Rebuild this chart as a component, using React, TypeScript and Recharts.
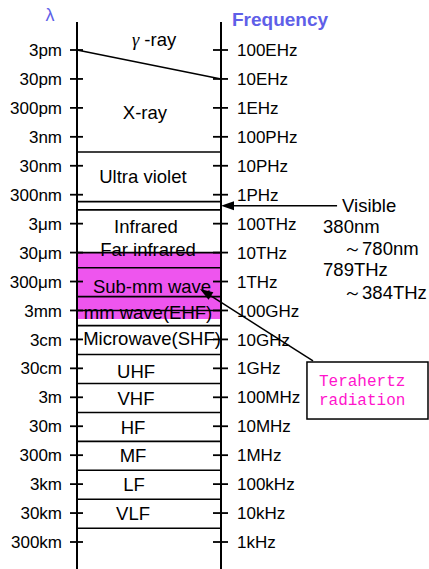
import React from 'react';
import { ComposedChart, XAxis, YAxis, Scatter, ReferenceLine, ReferenceArea } from 'recharts';

// left axis: wavelength ticks (m)
const waveTicks = [3e-12, 3e-11, 3e-10, 3e-9, 3e-8, 3e-7, 3e-6, 3e-5, 3e-4, 3e-3, 3e-2, 3e-1, 3, 30, 300, 3e3, 3e4, 3e5];
const waveLabels = ['3pm', '30pm', '300pm', '3nm', '30nm', '300nm', '3μm', '30μm', '300μm', '3mm', '3cm', '30cm', '3m', '30m', '300m', '3km', '30km', '300km'];

// right axis: frequency ticks (Hz)
const freqTicks = [1e20, 1e19, 1e18, 1e17, 1e16, 1e15, 1e14, 1e13, 1e12, 1e11, 1e10, 1e9, 1e8, 1e7, 1e6, 1e5, 1e4, 1e3];
const freqLabels = ['100EHz', '10EHz', '1EHz', '100PHz', '10PHz', '1PHz', '100THz', '10THz', '1THz', '100GHz', '10GHz', '1GHz', '100MHz', '10MHz', '1MHz', '100kHz', '10kHz', '1kHz'];

// horizontal band borders (wavelength, m)
const bandEdges = [1e-8, 5.2e-7, 1e-6, 3e-5, 1e-4, 1e-3, 3e-3, 1e-2, 0.1, 1, 10, 100, 1e3, 1e4, 1e5];
// gamma / X-ray border runs from 3pm (left) to 30pm (right)
const gammaSplit = [3e-12, 3e-11];
// terahertz shading
const thzBand = [3e-5, 5.9e-3];

const bandNames = ['γ', 'X-ray', 'Ultra violet', 'Infrared', 'Far infrared', 'Sub-mm wave', 'mm wave(EHF)', 'Microwave(SHF)', 'UHF', 'VHF', 'HF', 'MF', 'LF', 'VLF'];
const bandLabelAt = [1.35e-12, 4.5e-10, 7.3e-8, 3.9e-6, 2.26e-5, 4.3e-4, 3.4e-3, 2.9e-2, 0.4, 3.2, 32, 320, 3e3, 3e4];
const bandLabelX = [0.535, 0.472, 0.458, 0.479, 0.493, 0.521, 0.493, 0.521, 0.41, 0.41, 0.389, 0.389, 0.396, 0.389];

const visibleNote = ['Visible', '380nm', '～780nm', '789THz', '～384THz'];
const visibleAt = 7.2e-7;
const thzNote = ['Terahertz', 'radiation'];

const labelData = bandNames.map((name, i) => ({ x: bandLabelX[i], y: bandLabelAt[i], name }));

const FONT = '"Liberation Sans", Arial, sans-serif';
const PINK = '#ee55ee';
const TITLE_BLUE = '#5f5fe8';

const LeftTick = (props: any) => {
  const { x, y, payload } = props;
  const i = waveTicks.indexOf(payload.value);
  return (
    <g>
      <line x1={x - 7} x2={x + 6} y1={y} y2={y} stroke="#000" strokeWidth={1.8} />
      <text x={x - 15} y={y} dy="0.36em" textAnchor="end" fontSize={17} fontFamily={FONT} fill="#000">
        {waveLabels[i]}
      </text>
    </g>
  );
};

const RightTick = (props: any) => {
  const { x, y, payload } = props;
  const i = freqTicks.indexOf(payload.value);
  return (
    <g>
      <line x1={x - 8} x2={x + 7} y1={y} y2={y} stroke="#000" strokeWidth={1.8} />
      <text x={x + 16} y={y} dy="0.36em" textAnchor="start" fontSize={17} fontFamily={FONT} fill="#000">
        {freqLabels[i]}
      </text>
    </g>
  );
};

const BandLabel = (props: any) => {
  const { cx, cy, payload } = props;
  if (payload.name === 'γ') {
    return (
      <text x={cx} y={cy} dy="0.35em" textAnchor="middle" fontSize={18.5} fontFamily={FONT} fill="#000">
        <tspan fontStyle="italic" fontFamily='"Liberation Serif", serif'>γ</tspan> -ray
      </text>
    );
  }
  return (
    <text x={cx} y={cy} dy="0.35em" textAnchor="middle" fontSize={18.5} fontFamily={FONT} fill="#000">
      {payload.name}
    </text>
  );
};

const arrowHead = (x1: number, y1: number, x2: number, y2: number) => {
  const a = Math.atan2(y2 - y1, x2 - x1);
  const L = 13;
  const W = 4.5;
  const bx = x2 - L * Math.cos(a);
  const by = y2 - L * Math.sin(a);
  const pts = `${x2},${y2} ${bx - W * Math.sin(a)},${by + W * Math.cos(a)} ${bx + W * Math.sin(a)},${by - W * Math.cos(a)}`;
  return (
    <g>
      <line x1={x1} y1={y1} x2={bx} y2={by} stroke="#000" strokeWidth={1.5} />
      <polygon points={pts} fill="#000" />
    </g>
  );
};

const LeaderArrow = (p: any) => arrowHead(p.x1, p.y1, p.x2, p.y2);

const VisibleArrow = (p: any) => {
  const { x1, y1, x2, y2 } = p;
  const offs = [
    [5, 0],
    [-14, 21],
    [6, 43],
    [-14, 64],
    [6, 87],
  ];
  return (
    <g>
      {arrowHead(x1, y1, x2, y2)}
      {visibleNote.map((t, i) => (
        <text key={t} x={x1 + offs[i][0]} y={y1 + offs[i][1]} dy="0.36em" fontSize={18.5} fontFamily={FONT} fill="#000">
          {t}
        </text>
      ))}
    </g>
  );
};

const ThzBox = (p: any) => {
  const { x, y, width, height } = p;
  return (
    <g>
      <rect x={x} y={y} width={width} height={height} fill="#fff" stroke="#000" strokeWidth={1.5} />
      {thzNote.map((t, i) => (
        <text key={t} x={x + 12} y={y + 18 + i * 19} dy="0.36em" fontSize={16} fontFamily='"Liberation Mono", monospace' fill="#ff14cc">
          {t}
        </text>
      ))}
    </g>
  );
};

export default function App() {
  return (
    <div style={{ position: 'absolute', left: 0, top: 0, width: 429, height: 569, background: '#fff' }}>
      <ComposedChart width={429} height={569} margin={{ top: 22, right: 0, bottom: 0, left: 0 }} data={labelData}>
        <XAxis xAxisId={0} type="number" dataKey="x" domain={[0, 1]} allowDataOverflow hide />
        <YAxis
          yAxisId="left"
          type="number"
          dataKey="y"
          scale="log"
          domain={[3.233e-13, 2.571e6]}
          allowDataOverflow
          reversed
          width={77}
          ticks={waveTicks}
          interval={0}
          tickSize={0}
          tickMargin={0}
          tickLine={false}
          tick={<LeftTick />}
          axisLine={{ stroke: '#000', strokeWidth: 2 }}
          label={{
            content: (p: any) => (
              <text x={p.viewBox.x + 50} y={p.viewBox.y - 7} dy="0.35em" textAnchor="middle" fontSize={18} fontFamily={FONT} fill={TITLE_BLUE}>
                λ
              </text>
            ),
          }}
        />
        <YAxis
          yAxisId="right"
          orientation="right"
          type="number"
          scale="log"
          domain={[116.7, 9.279e20]}
          allowDataOverflow
          width={208}
          ticks={freqTicks}
          interval={0}
          tickSize={0}
          tickMargin={0}
          tickLine={false}
          tick={<RightTick />}
          axisLine={{ stroke: '#000', strokeWidth: 2 }}
          label={{
            content: (p: any) => (
              <text x={p.viewBox.x + 11} y={p.viewBox.y - 3} dy="0.35em" fontSize={19} fontWeight="bold" fontFamily={FONT} fill={TITLE_BLUE}>
                Frequency
              </text>
            ),
          }}
        />
        <ReferenceArea yAxisId="left" y1={thzBand[0]} y2={thzBand[1]} fill={PINK} fillOpacity={1} stroke="none" ifOverflow="visible" />
        {bandEdges.map((e) => (
          <ReferenceLine key={e} yAxisId="left" y={e} stroke="#000" strokeWidth={1.6} />
        ))}
        <ReferenceLine
          yAxisId="left"
          segment={[
            { x: 0, y: gammaSplit[0] },
            { x: 1, y: gammaSplit[1] },
          ]}
          stroke="#000"
          strokeWidth={1.6}
          ifOverflow="visible"
        />
        <Scatter yAxisId="left" dataKey="y" data={labelData} shape={<BandLabel />} isAnimationActive={false} />
        <ReferenceLine
          yAxisId="left"
          segment={[
            { x: 1.806, y: visibleAt },
            { x: 1.0, y: visibleAt },
          ]}
          ifOverflow="visible"
          shape={<VisibleArrow />}
        />
        <ReferenceArea yAxisId="left" x1={1.597} x2={2.4375} y1={0.181} y2={16.9} ifOverflow="visible" shape={<ThzBox />} />
        <ReferenceLine
          yAxisId="left"
          segment={[
            { x: 1.639, y: 0.167 },
            { x: 0.854, y: 5.43e-4 },
          ]}
          ifOverflow="visible"
          shape={<LeaderArrow />}
        />
      </ComposedChart>
    </div>
  );
}
